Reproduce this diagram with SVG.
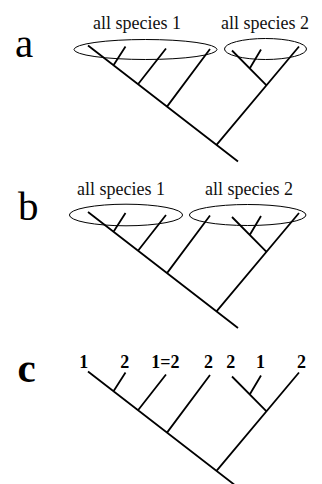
<svg xmlns="http://www.w3.org/2000/svg" xmlns:xlink="http://www.w3.org/1999/xlink" width="322" height="484" viewBox="0 0 322 484">
<style>
.tree{fill:none;stroke:#000;stroke-width:1.8;stroke-linecap:butt}
.ell{fill:none;stroke:#000;stroke-width:1}
.lbl{font-family:"Liberation Serif","Times New Roman",serif;font-size:18px;fill:#111}
.pan{font-family:"Liberation Serif","Times New Roman",serif;font-size:41px;fill:#000}
.num{font-family:"Liberation Serif","Times New Roman",serif;font-size:18px;font-weight:bold;fill:#000;text-anchor:middle}
</style>
<defs>
<path id="tree" class="tree" d="M88,0 L238,116 M113.5,19.7 L125.5,1 M138,38.7 L166,3 M167,61.1 L210,3.5 M216.5,99.4 L299,1 M232,5 L266.5,39.8 M250,22.5 L261,4"/>
</defs>
<rect width="322" height="484" fill="#fff"/>
<g id="connectors">
<use xlink:href="#tree" href="#tree" transform="translate(0,45.5)"/>
<use xlink:href="#tree" href="#tree" transform="translate(0,212)"/>
<use xlink:href="#tree" href="#tree" transform="translate(0,371.5)"/>
</g>
<g id="panel-a">
<text class="pan" x="15" y="57">a</text>
<g id="a-species1"><ellipse class="ell" cx="145.5" cy="49.5" rx="71.5" ry="10"/><text class="lbl" x="93" y="29">all species 1</text></g>
<g id="a-species2"><ellipse class="ell" cx="265.5" cy="49" rx="41" ry="10.5"/><text class="lbl" x="221" y="29">all species 2</text></g>
</g>
<g id="panel-b">
<text class="pan" x="18" y="220">b</text>
<g id="b-species1"><ellipse class="ell" cx="126" cy="215" rx="56.6" ry="10.8"/><text class="lbl" x="77" y="195">all species 1</text></g>
<g id="b-species2"><ellipse class="ell" cx="247.7" cy="215" rx="58.3" ry="10.5"/><text class="lbl" x="205" y="195">all species 2</text></g>
</g>
<g id="panel-c">
<text class="pan" x="17.5" y="382" font-weight="bold" font-size="38">c</text>
<text class="num" x="83.7" y="367.5">1</text>
<text class="num" x="124.7" y="367.5">2</text>
<text class="num" x="165.3" y="367.5">1=2</text>
<text class="num" x="208.5" y="367.5">2</text>
<text class="num" x="230.8" y="367.5">2</text>
<text class="num" x="260.5" y="367.5">1</text>
<text class="num" x="301.4" y="367.5">2</text>
</g>
</svg>
